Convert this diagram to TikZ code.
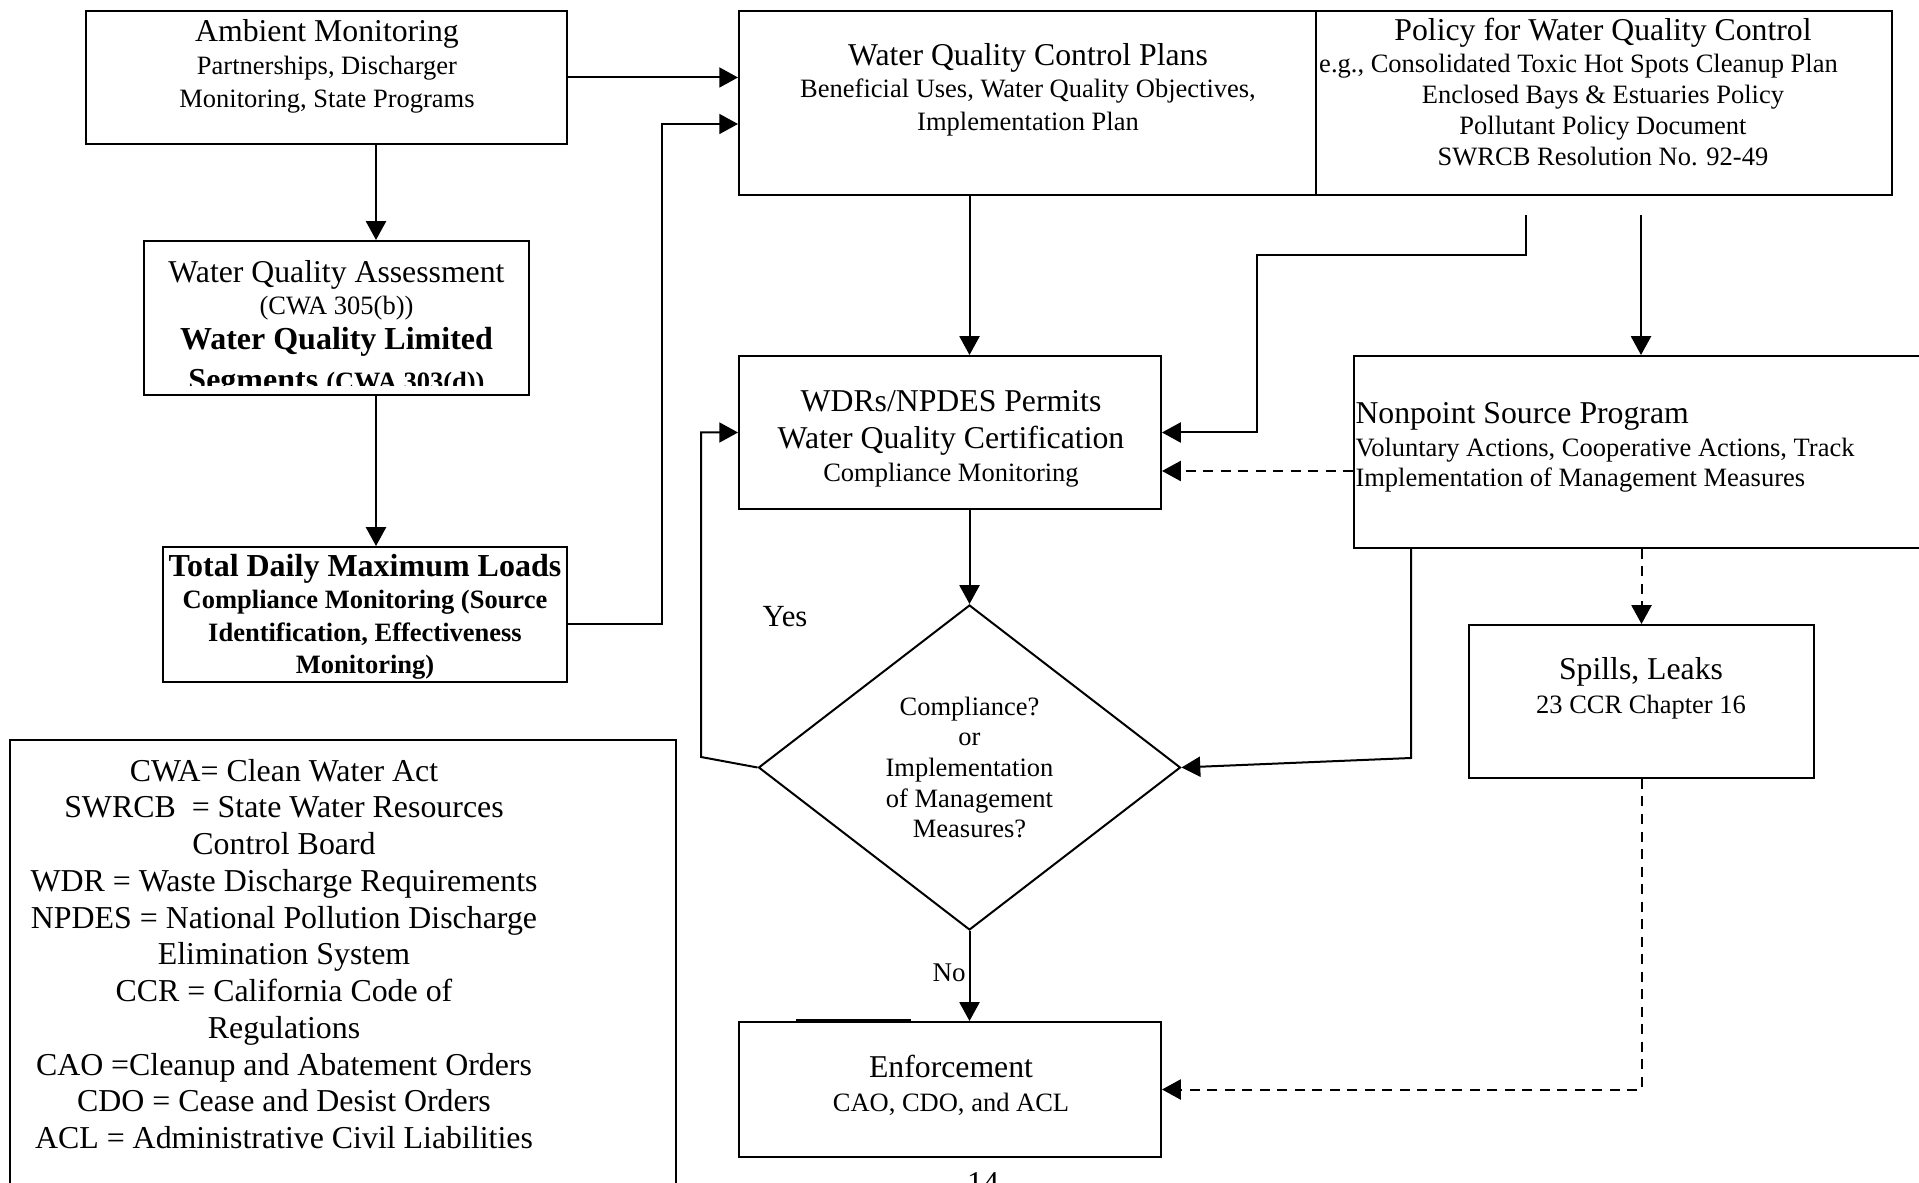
\documentclass[tikz,border=0pt]{standalone}
\usepackage{fontspec}
\setmainfont{Liberation Serif}
\usetikzlibrary{shapes.geometric,arrows.meta}

\newcommand\ftitre{\fontsize{12.7}{13}\selectfont}
\newcommand\fsous{\fontsize{10.6}{13}\selectfont}

\tikzset{
  boite/.style={draw, line width=0.8pt, rectangle, inner sep=0pt},
  texte/.style={align=center, inner sep=0pt, font=\fsous},
  lien/.style={line width=0.8pt, -{Triangle[length=7.5pt,width=8pt]}},
  tirets/.style={dash pattern=on 4pt off 3pt},
}

\begin{document}
\begin{tikzpicture}[x=0.4pt, y=-0.4pt]
\useasboundingbox (0,0) rectangle (1919,1183);

% Colonne de gauche
\node[boite, minimum width=192.4pt, minimum height=53.2pt] (amb) at (326.5,77.5) {};
\node[texte] (amb-t) at (327,66) {{\ftitre Ambient Monitoring}\\[0.5pt]Partnerships, Discharger\\Monitoring, State Programs};

\node[boite, minimum width=154pt, minimum height=61.6pt] (wqa) at (336.5,318) {};
\begin{scope}
  \clip ([xshift=2pt]wqa.north west) rectangle ([xshift=-2pt,yshift=4pt]wqa.south east);
  \node[texte] (wqa-t) at (336.5,329) {{\ftitre Water Quality Assessment}\\(CWA 305(b))\\[1pt]
    {\fontsize{12.8}{13}\selectfont\bfseries Water Quality Limited}\\[3.5pt]
    {\fontsize{12.8}{13}\selectfont\bfseries Segments {\fsous (CWA 303(d))}}};
\end{scope}

\node[boite, minimum width=161.6pt, minimum height=54pt] (tmdl) at (365,614.5) {};
\node[texte, font=\fsous\bfseries] (tmdl-t) at (365,617) {{\fontsize{12.8}{13}\selectfont Total Daily Maximum Loads}\\Compliance Monitoring (Source\\Identification, Effectiveness\\Monitoring)};

% Legende
\node[boite, minimum width=266.4pt, minimum height=184pt] (leg) at (343,970) {};
\node[texte, font=\fontsize{12.75}{14.7}\selectfont] (leg-t) at (284,954) {CWA= Clean Water Act\\SWRCB~ = State Water Resources\\Control Board\\WDR = Waste Discharge Requirements\\NPDES = National Pollution Discharge\\Elimination System\\CCR = California Code of\\Regulations\\CAO =Cleanup and Abatement Orders\\CDO = Cease and Desist Orders\\ACL = Administrative Civil Liabilities};

% Plans et politiques
\node[boite, minimum width=230.8pt, minimum height=73.6pt] (wqcp) at (1027.5,103) {};
\node[texte] (wqcp-t) at (1028,89.5) {{\ftitre Water Quality Control Plans}\\Beneficial Uses, Water Quality Objectives,\\Implementation Plan};

\node[boite, minimum width=230.4pt, minimum height=73.6pt] (pol) at (1604,103) {};
\node[texte, font=\fontsize{10.6}{12.4}\selectfont] (pol-t) at (1603,92) {{\ftitre Policy for Water Quality Control}\\[0.6pt]\hbox{\kern-19.6pt e.g., Consolidated Toxic Hot Spots Cleanup Plan}\\Enclosed Bays \& Estuaries Policy\\Pollutant Policy Document\\SWRCB Resolution No. 92-49};

% Permis et programmes
\node[boite, minimum width=168.8pt, minimum height=61.2pt] (wdr) at (950,432.5) {};
\node[texte, font=\fontsize{10.6}{14.8}\selectfont] (wdr-t) at (951,439) {{\ftitre WDRs/NPDES Permits}\\{\ftitre Water Quality Certification}\\[-1.6pt]Compliance Monitoring};

\node[boite, minimum width=230.4pt, minimum height=76.8pt] (nps) at (1642,452) {};
\node[texte, align=left, anchor=west, font=\fontsize{10.6}{12}\selectfont] (nps-t) at (1355,447.5) {{\ftitre Nonpoint Source Program}\\[1pt]Voluntary Actions, Cooperative Actions, Track\\Implementation of Management Measures};

\node[boite, minimum width=138pt, minimum height=61.2pt] (spills) at (1641.5,701.5) {};
\node[texte, font=\fontsize{10.6}{13.6}\selectfont] (spills-t) at (1641,688) {{\ftitre Spills, Leaks}\\23 CCR Chapter 16};

% Decision
\node[draw, line width=0.8pt, diamond, inner sep=0pt, shape aspect=1.3,
      minimum width=168.8pt, minimum height=130pt, align=center,
      font=\fontsize{10.6}{12.25}\selectfont] (dia) at (969.5,767.5)
      {Compliance?\\or\\Implementation\\of Management\\Measures?};

\node[boite, minimum width=168.8pt, minimum height=54pt] (enf) at (950,1089.5) {};
\node[texte, font=\fontsize{10.6}{13.6}\selectfont] (enf-t) at (951,1085.5) {{\ftitre Enforcement}\\CAO, CDO, and ACL};
\draw[line width=1.4pt] ([xshift=23.2pt]enf.north west) -- ([xshift=69.2pt]enf.north west);

% Points de passage
\coordinate (colA) at (376,0);
\coordinate (retour) at (662,124);
\coordinate (p1) at (1526,215);
\coordinate (p2) at (1641,215);
\coordinate (coude) at (1257,255);
\coordinate (oui) at (701,757);
\coordinate (npsb) at (1411,758);

% Fleches
\draw[lien] (amb.east) -- (amb.east -| wqcp.west);
\draw[lien] (amb.south -| colA) -- (wqa.north -| colA);
\draw[lien] (wqa.south -| colA) -- (tmdl.north -| colA);
\draw[lien] ([yshift=-4pt]tmdl.east) -| (retour) -- (retour -| wqcp.west);
\draw[lien] (wqcp.south -| dia.north) -- (wdr.north -| dia.north);
\draw[lien] (p1) |- (coude) |- (wdr.east);
\draw[lien] (p2) -- (nps.north -| p2);
\draw[lien, tirets] ([yshift=-7.6pt]nps.west) -- ([yshift=-7.6pt]nps.west -| wdr.east);
\draw[lien] (wdr.south -| dia.north) -- (dia.north);
\draw[lien] (nps.south -| npsb) -- (npsb) -- (dia.east);
\draw[lien, tirets] (nps.south -| spills.north) -- (spills.north);
\draw[lien] (dia.west) -- (oui) |- (wdr.west);
\draw[lien] (dia.south) -- (enf.north -| dia.south);
\draw[lien, tirets] (spills.south) |- (enf.east);

% Etiquettes
\node[font=\fontsize{12.3}{13}\selectfont, inner sep=0pt] (oui-t) at (785,617) {Yes};
\node[font=\fontsize{10.8}{12}\selectfont, inner sep=0pt] (non-t) at (949,973) {No};
\node[font=\fontsize{12.7}{13}\selectfont, inner sep=0pt, anchor=base] (page) at (983,1193) {14};

\end{tikzpicture}
\end{document}
